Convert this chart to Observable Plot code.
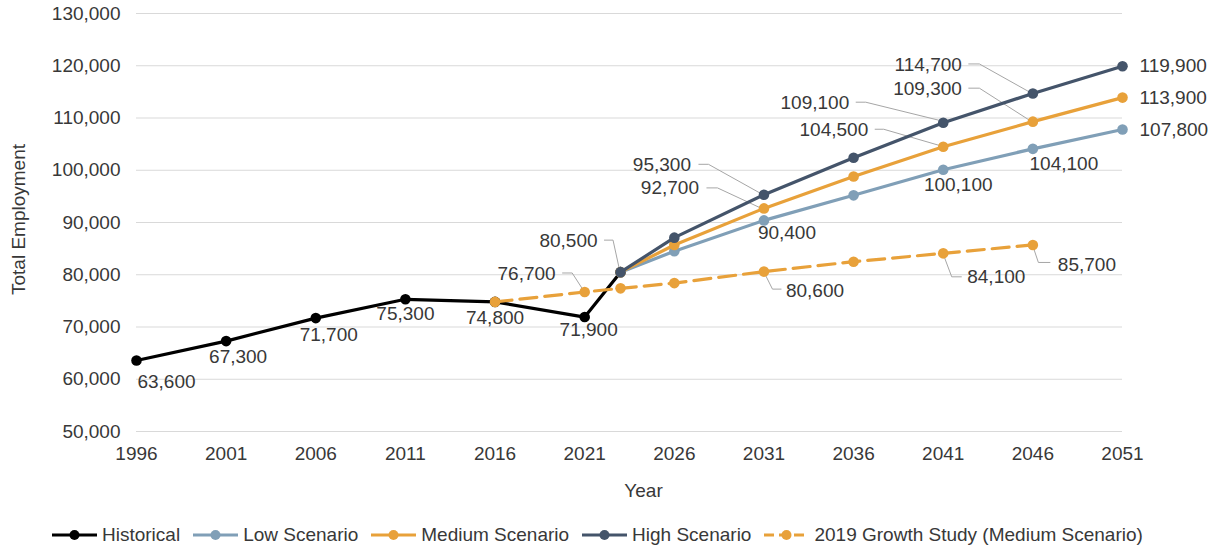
<!DOCTYPE html>
<html><head><meta charset="utf-8">
<script src="https://cdn.jsdelivr.net/npm/d3@7"></script>
<script src="https://cdn.jsdelivr.net/npm/@observablehq/plot@0.6"></script>
<style>
body{margin:0;background:#fff;font-family:"Liberation Sans",Arial,sans-serif;}
#legend{display:flex;align-items:center;height:30px;margin-left:52px;font-size:19px;color:#383838;white-space:nowrap;}
.item{display:flex;align-items:center;margin-right:13px;}
.item svg{margin-right:5px;}
</style></head><body><div id="chart"></div><div id="legend"></div>
<script>
// ---- data ----
const histYears = [1996, 2001, 2006, 2011, 2016, 2021, 2023];
const histValues = [63600, 67300, 71700, 75300, 74800, 71900, 80500];
const scenarioYears = [2023, 2026, 2031, 2036, 2041, 2046, 2051];
const lowValues = [80500, 84500, 90400, 95200, 100100, 104100, 107800];
const mediumValues = [80500, 85700, 92700, 98800, 104500, 109300, 113900];
const highValues = [80500, 87100, 95300, 102400, 109100, 114700, 119900];
const studyYears = [2016, 2021, 2023, 2026, 2031, 2036, 2041, 2046];
const studyValues = [74800, 76700, 77400, 78400, 80600, 82500, 84100, 85700];
const xTicks = [1996, 2001, 2006, 2011, 2016, 2021, 2026, 2031, 2036, 2041, 2046, 2051];
const yTicks = [50000, 60000, 70000, 80000, 90000, 100000, 110000, 120000, 130000];
const seriesNames = ["Historical", "Low Scenario", "Medium Scenario", "High Scenario", "2019 Growth Study (Medium Scenario)"];
// labelled points: series name and year (value read from the series arrays)
const labelSeries = ["Historical","Historical","Historical","Historical","Historical","Historical",
  "2019 Growth Study (Medium Scenario)","High Scenario",
  "Medium Scenario","High Scenario","Low Scenario","2019 Growth Study (Medium Scenario)",
  "High Scenario","Medium Scenario","Low Scenario","2019 Growth Study (Medium Scenario)",
  "High Scenario","Medium Scenario","Low Scenario","2019 Growth Study (Medium Scenario)",
  "High Scenario","Medium Scenario","Low Scenario"];
const labelYears = [1996,2001,2006,2011,2016,2021, 2021,2023, 2031,2031,2031,2031, 2041,2041,2041,2041, 2046,2046,2046,2046, 2051,2051,2051];

// ---- layout / style ----
const seriesData = {
  "Historical": [histYears, histValues],
  "Low Scenario": [scenarioYears, lowValues],
  "Medium Scenario": [scenarioYears, mediumValues],
  "High Scenario": [scenarioYears, highValues],
  "2019 Growth Study (Medium Scenario)": [studyYears, studyValues]
};
const seriesStyle = {
  "Historical": {color: "#000000", dash: null},
  "Low Scenario": {color: "#809fb7", dash: null},
  "Medium Scenario": {color: "#e8a13a", dash: null},
  "High Scenario": {color: "#44546a", dash: null},
  "2019 Growth Study (Medium Scenario)": {color: "#e8a13a", dash: "17,8"}
};
const drawOrder = ["Historical", "2019 Growth Study (Medium Scenario)", "Low Scenario", "Medium Scenario", "High Scenario"];
// placement of each label: [dx, dy, anchor, leader polyline offsets]
const placement = [
  [30, 21, "middle", null],
  [12, 16, "middle", null],
  [13, 17, "middle", null],
  [0, 15, "middle", null],
  [0, 16, "middle", null],
  [4, 13, "middle", null],
  [-29, -18.5, "end", [[-22,-18.5],[-12,-18.5],[-2,-3]]],
  [-23, -31.5, "end", [[-16,-31.5],[-7,-31.5],[-1,-4]]],
  [-65, -20, "end", [[-57,-20],[-46,-20],[-3,0]]],
  [-73, -30, "end", [[-65,-30],[-55,-30],[-3,-1]]],
  [23, 12, "middle", null],
  [22, 19, "start", [[0,0],[9,18],[18,18]]],
  [-94, -20, "end", [[-87,-20],[-77,-20],[-4,-2]]],
  [-75, -17, "end", [[-68,-17],[-59,-17],[-4,-1]]],
  [15, 15, "middle", null],
  [24, 24, "start", [[0,0],[9,24],[19,24]]],
  [-71, -29, "end", [[-64,-29],[-53,-29],[-3,-1]]],
  [-71, -33, "end", [[-64,-33],[-53,-33],[-3,-1]]],
  [31, 15, "middle", null],
  [25, 20, "start", [[0,0],[6,18],[18,18]]],
  [17, 0, "start", null],
  [17, 0, "start", null],
  [17, 0, "start", null]
];

const FONT = '"Liberation Sans", Arial, sans-serif';
const TEXT = "#383838";
const FS = 19;
const fmt = d3.format(",");
const table = name => { const [ys, vs] = seriesData[name]; return ys.map((y, i) => ({year: y, value: vs[i]})); };

const labels = labelSeries.map((s, i) => {
  const [ys, vs] = seriesData[s];
  const v = vs[ys.indexOf(labelYears[i])];
  return {series: s, year: labelYears[i], value: v, text: fmt(v)};
});

const marks = [
  Plot.gridY(yTicks, {stroke: "#d9d9d9", strokeOpacity: 1, strokeWidth: 1.2}),
  Plot.axisY(yTicks, {tickSize: 0, tickPadding: 16, tickFormat: d => fmt(d), label: null, fontSize: FS}),
  Plot.axisX(xTicks, {tickSize: 0, tickPadding: 15, tickFormat: d => String(d), label: null, fontSize: FS}),
  Plot.text(["Total Employment"], {frameAnchor: "left", textAnchor: "middle", rotate: -90, dx: -118, dy: -3, fontSize: FS, fill: TEXT}),
  Plot.text(["Year"], {frameAnchor: "bottom", dx: 14, dy: 65, fontSize: FS, fill: TEXT})
];
for (const name of drawOrder) {
  const st = seriesStyle[name];
  marks.push(Plot.line(table(name), {x: "year", y: "value", stroke: st.color, strokeWidth: 3.2, strokeDasharray: st.dash || undefined}));
  marks.push(Plot.dot(table(name), {x: "year", y: "value", r: 5.3, fill: st.color, stroke: null}));
}
labels.forEach((d, i) => {
  const [dx, dy, anchor] = placement[i];
  marks.push(Plot.text([d], {x: "year", y: "value", text: "text", dx, dy, textAnchor: anchor, fontSize: FS, fill: TEXT}));
});

const chart = Plot.plot({
  width: 1215, height: 520,
  marginLeft: 136, marginRight: 93, marginTop: 13, marginBottom: 89,
  x: {domain: [1996, 2051]},
  y: {domain: [50000, 130000]},
  style: {fontFamily: FONT, fontSize: FS + "px", color: TEXT, background: "#fff", overflow: "visible"},
  marks
});

// leader lines, positioned through the plot's own scales
const sx = chart.scale("x"), sy = chart.scale("y");
const lg = d3.create("svg:g").attr("fill", "none").attr("stroke", "#a6a6a6").attr("stroke-width", 1);
labels.forEach((d, i) => {
  const leader = placement[i][3];
  if (!leader) return;
  const px = sx.apply(d.year), py = sy.apply(d.value);
  lg.append("path").attr("d", d3.line()(leader.map(([a, b]) => [px + a, py + b])));
});
const firstLine = chart.querySelector('g[aria-label="line"]');
chart.insertBefore(lg.node(), firstLine);
document.getElementById("chart").appendChild(chart);

// legend
const legend = d3.select("#legend");
for (const name of seriesNames) {
  const st = seriesStyle[name];
  const item = legend.append("div").attr("class", "item");
  const sw = item.append("svg").attr("width", 45).attr("height", 16);
  sw.append("line").attr("x1", 0).attr("x2", 45).attr("y1", 8).attr("y2", 8)
    .attr("stroke", st.color).attr("stroke-width", 3.2).attr("stroke-dasharray", st.dash ? "10,5" : null);
  sw.append("circle").attr("cx", 22.5).attr("cy", 8).attr("r", 5).attr("fill", st.color);
  item.append("span").text(name);
}
</script></body></html>
